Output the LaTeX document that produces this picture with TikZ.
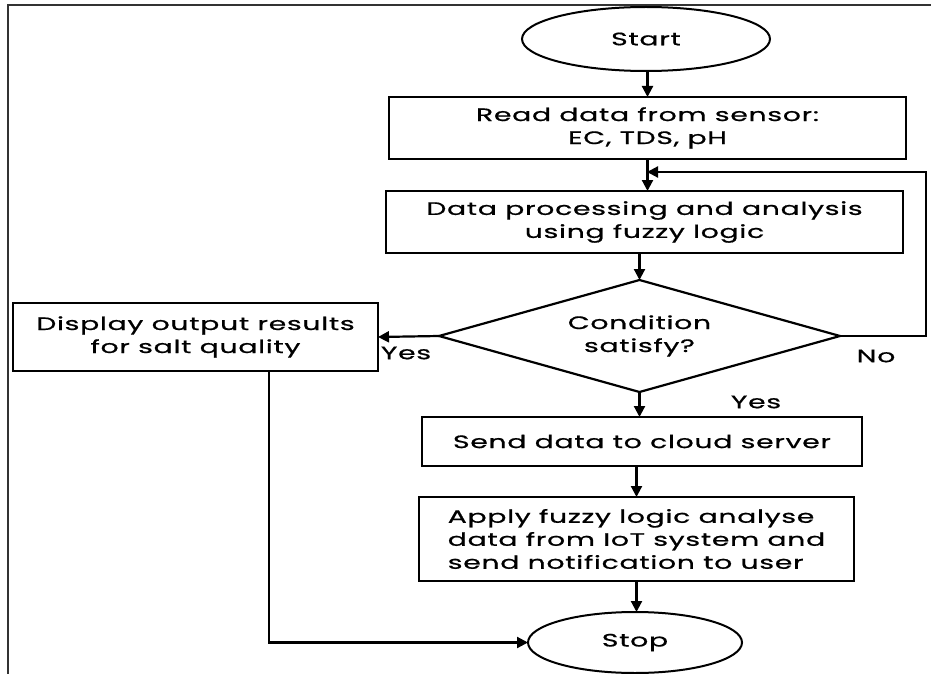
\documentclass[tikz,border=0pt]{standalone}
\usepackage{fontspec}
\setmainfont{Poppins}[FakeStretch=1.57,LetterSpace=4,FakeBold=0.8]
\usetikzlibrary{shapes.geometric,arrows.meta,calc}

\begin{document}
\begin{tikzpicture}[x=1pt,y=-1pt,
    font=\fontsize{18}{23}\selectfont,
    every node/.style={inner sep=0pt, outer sep=0pt},
    box/.style={draw, line width=2.2pt, rectangle, align=center},
    terminal/.style={draw, line width=2pt, ellipse},
    decision/.style={draw, line width=2.2pt, diamond, aspect=3.58, align=center},
    flow/.style={line width=2.2pt, -{Triangle[length=11pt,width=11pt]}},
    frameline/.style={line width=2pt, draw=black!80},
    lbl/.style={font=\fontsize{18}{23}\selectfont}]

  % page area and the two visible frame edges
  \useasboundingbox (0,0) rectangle (931,674);
  \draw[frameline] (8,674) -- (8,5) -- (931,5);

  % process nodes
  \node[terminal, minimum width=248pt, minimum height=64pt] (start) at (646,39) {Start};
  \node[box, minimum width=517pt, minimum height=62pt] (read) at (647.5,128)
    {Read data from sensor:\\EC, TDS, pH};
  \node[box, minimum width=517pt, minimum height=62pt] (proc) at (644.5,222)
    {Data processing and analysis\\using fuzzy logic};
  \node[decision, minimum width=401pt, minimum height=112pt] (cond) at (639.5,336)
    {Condition\\satisfy?};
  \node[box, minimum width=365pt, minimum height=68pt] (disp) at (195.5,337)
    {Display output results\\for salt quality};
  \node[box, minimum width=440pt, minimum height=49pt] (send) at (642,441.5)
    {Send data to cloud server};
  \node[box, minimum width=435pt, minimum height=84pt, align=left] (apply) at (636.5,539)
    {Apply fuzzy logic analyse\\data from IoT system and\\send notification to user};
  \node[terminal, minimum width=214pt, minimum height=61pt] (stop) at (635,642.5) {Stop};

  % merge point of the loop-back line
  \coordinate (merge) at (647,172);

  % main flow
  \draw[flow] (read.north |- start.south) -- (read.north);
  \draw[flow] (read.south) -- (read.south |- proc.north);
  \draw[flow] (cond.north |- proc.south) -- (cond.north);
  \draw[flow] (cond.south) -- (cond.south |- send.north);
  \draw[flow] (apply.north |- send.south) -- (apply.north);
  \draw[flow] (apply.south) -- (apply.south |- stop.north);

  % branches
  \draw[flow] (cond.west) -- (disp.east);
  \draw[flow] ([xshift=73.5pt]disp.south) |- (stop.west);
  \draw[flow] (cond.east) -- ++(86,0) |- (merge);

  % branch labels
  \node[lbl] (yesleft) at (406,353) {Yes};
  \node[lbl] (no) at (876,356) {No};
  \node[lbl] (yesdown) at (756,402) {Yes};
\end{tikzpicture}
\end{document}
